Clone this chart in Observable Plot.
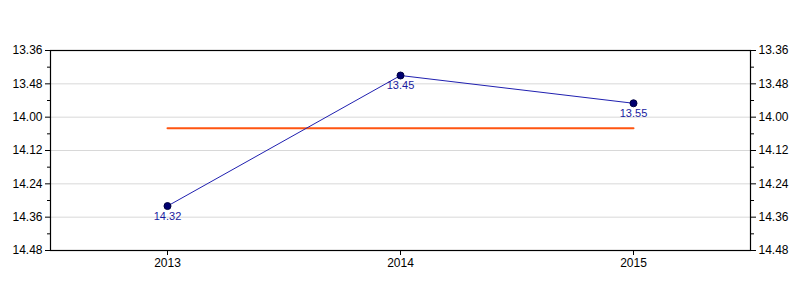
<!DOCTYPE html>
<html>
<head>
<meta charset="utf-8">
<script src="https://cdn.jsdelivr.net/npm/d3@7"></script>
<script src="https://cdn.jsdelivr.net/npm/@observablehq/plot@0.6"></script>
<style>
  html, body { margin: 0; padding: 0; background: #fff; }
  svg { font-family: "Liberation Sans", Arial, sans-serif; }
</style>
</head>
<body>
<div id="chart"></div>
<script>
const years = ["2013", "2014", "2015"];
const timeLabels = ["14.32", "13.45", "13.55"]; // minutes.seconds
const yTickLabels = ["13.36", "13.48", "14.00", "14.12", "14.24", "14.36", "14.48"];
const yMinorLabels = ["13.42", "13.54", "14.06", "14.18", "14.30", "14.42"];

const toSec = s => { const [m, ss] = s.split("."); return +m * 60 + +ss; };
const fmt = v => `${Math.floor(v / 60)}.${String(Math.round(v % 60)).padStart(2, "0")}`;

const data = years.map((y, i) => ({year: y, sec: toSec(timeLabels[i]), label: timeLabels[i]}));
const majorTicks = yTickLabels.map(toSec);
const minorTicks = yMinorLabels.map(toSec);
const avg = d3.mean(data, d => d.sec);

const chart = Plot.plot({
  width: 800,
  height: 300,
  marginLeft: 50,
  marginRight: 50,
  marginTop: 50,
  marginBottom: 50,
  style: {fontSize: "12px", fontFamily: "Liberation Sans, Arial, sans-serif", color: "#000"},
  x: {type: "point", domain: years, padding: 0.5, label: null},
  y: {domain: [majorTicks[0], majorTicks[majorTicks.length - 1]], reverse: true, label: null},
  marks: [
    Plot.gridY(majorTicks.slice(1, -1), {stroke: "#d8d8d8", strokeOpacity: 1}),
    Plot.axisY(majorTicks, {anchor: "left", tickFormat: fmt, tickSize: 5, tickPadding: 3, fontSize: 12, label: null}),
    Plot.axisY(majorTicks, {anchor: "right", tickFormat: fmt, tickSize: 5, tickPadding: 3, fontSize: 12, label: null}),
    Plot.axisY(minorTicks, {anchor: "left", tickFormat: () => "", tickSize: 3, label: null}),
    Plot.axisY(minorTicks, {anchor: "right", tickFormat: () => "", tickSize: 3, label: null}),
    Plot.axisX({anchor: "bottom", tickSize: 5, tickPadding: 3, fontSize: 12, label: null}),
    Plot.frame({stroke: "#000", strokeWidth: 1.2}),
    Plot.lineY([{year: years[0], v: avg}, {year: years[years.length - 1], v: avg}], {x: "year", y: "v", stroke: "#ff5511", strokeWidth: 2}),
    Plot.line(data, {x: "year", y: "sec", stroke: "#2020b0", strokeWidth: 1}),
    Plot.dot(data, {x: "year", y: "sec", r: 3.5, fill: "#000070", stroke: "#000040", strokeWidth: 1}),
    Plot.text(data, {x: "year", y: "sec", text: "label", dy: 10, fill: "#1a1aa0", fontSize: 11})
  ]
});
document.getElementById("chart").append(chart);
</script>
</body>
</html>
